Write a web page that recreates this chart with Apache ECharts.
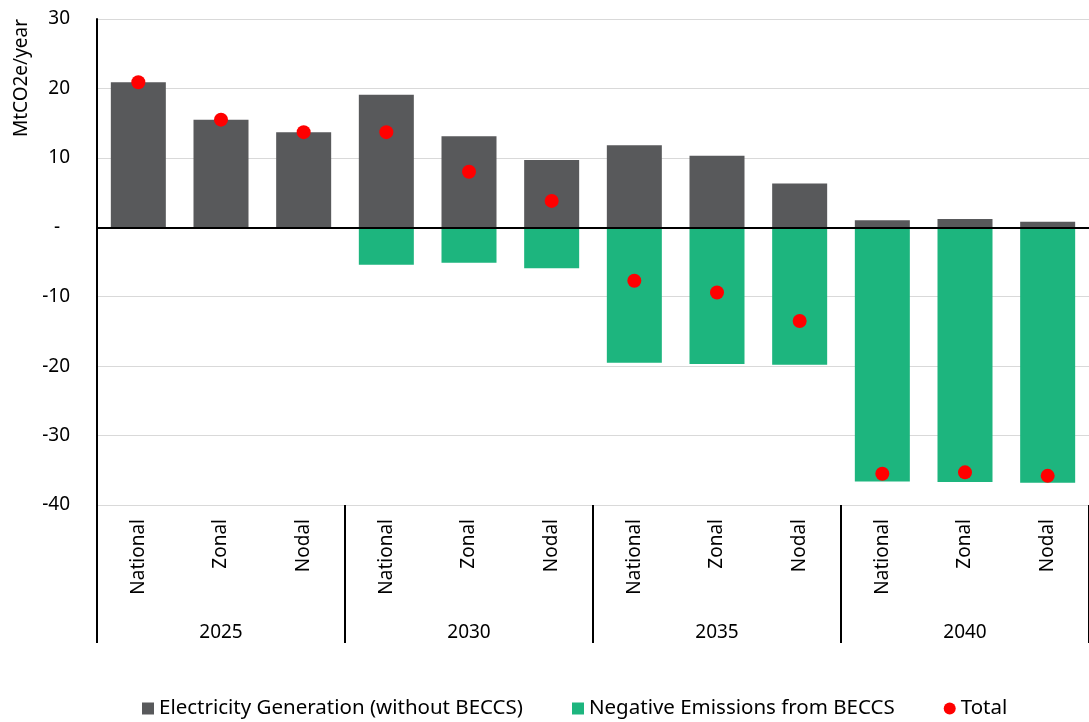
<!DOCTYPE html>
<html>
<head>
<meta charset="utf-8">
<script src="https://cdn.jsdelivr.net/npm/echarts@6/dist/echarts.min.js"></script>
<style>
html,body{margin:0;padding:0;background:#fff;}
#chart{width:1089px;height:722px;}
</style>
</head>
<body>
<div id="chart"></div>
<script>
const scenarios = ['National','Zonal','Nodal','National','Zonal','Nodal','National','Zonal','Nodal','National','Zonal','Nodal'];
const years = ['2025','2030','2035','2040'];
const generation = [20.9, 15.5, 13.7, 19.1, 13.1, 9.7, 11.8, 10.3, 6.3, 1.0, 1.2, 0.8];
const negative = [0, 0, 0, -5.4, -5.1, -5.9, -19.5, -19.7, -19.8, -36.6, -36.7, -36.8];
const total = [20.9, 15.5, 13.7, 13.7, 8.0, 3.8, -7.7, -9.4, -13.5, -35.5, -35.3, -35.8];
const seriesNames = ['Electricity Generation (without BECCS)', 'Negative Emissions from BECCS', 'Total'];
const yTitle = 'MtCO2e/year';

const FONT = 'Noto Sans';
const chart = echarts.init(document.getElementById('chart'), null, {renderer:'canvas'});
chart.setOption({
  animation: false,
  textStyle: {fontFamily: FONT},
  grid: {left: 97, right: 0, top: 19, bottom: 217, containLabel: false},
  legend: {
    left: 137, top: 693,
    itemWidth: 12, itemHeight: 12, itemGap: 49,
    textStyle: {fontSize: 20.5, color: '#000', fontFamily: FONT},
    data: [
      {name: seriesNames[0], icon: 'rect'},
      {name: seriesNames[1], icon: 'rect'},
      {name: seriesNames[2], icon: 'circle'}
    ]
  },
  graphic: [{
    type: 'text', x: 22, y: 78, rotation: Math.PI/2,
    style: {text: yTitle, fontSize: 19, fontFamily: FONT, fill: '#000', textAlign: 'center', textVerticalAlign: 'middle'}
  }],
  xAxis: [{
    type: 'category', data: scenarios, position: 'bottom',
    axisLine: {show: false}, axisTick: {show: false},
    axisLabel: {rotate: 90, interval: 0, margin: 14, fontSize: 19, color: '#000', fontFamily: FONT}
  }, {
    type: 'category', data: years, position: 'bottom',
    axisLine: {show: false},
    axisTick: {show: true, interval: 0, length: 138, lineStyle: {color: '#000', width: 2}},
    axisLabel: {interval: 0, margin: 118, fontSize: 19, color: '#000', fontFamily: FONT}
  }],
  yAxis: {
    type: 'value', min: -40, max: 30, interval: 10,
    axisLine: {show: true, lineStyle: {color: '#000', width: 2}},
    axisTick: {show: false},
    splitLine: {show: true, lineStyle: {color: '#d9d9d9', width: 1}},
    axisLabel: {margin: 27, fontSize: 19, color: '#000', fontFamily: FONT,
      formatter: v => v === 0 ? '-  ' : String(v)}
  },
  series: [{
    name: seriesNames[0], type: 'bar', stack: 'a', data: generation, barWidth: 55,
    itemStyle: {color: '#58595b'},
    markLine: {silent: true, symbol: 'none', label: {show: false},
      lineStyle: {color: '#000', width: 2, type: 'solid'}, data: [{yAxis: 0}]}
  }, {
    name: seriesNames[1], type: 'bar', stack: 'a', data: negative, barWidth: 55,
    itemStyle: {color: '#1db57e'}
  }, {
    name: seriesNames[2], type: 'scatter', data: total, symbol: 'circle', symbolSize: 14,
    itemStyle: {color: '#ff0000', opacity: 1}, z: 5
  }]
});
</script>
</body>
</html>
